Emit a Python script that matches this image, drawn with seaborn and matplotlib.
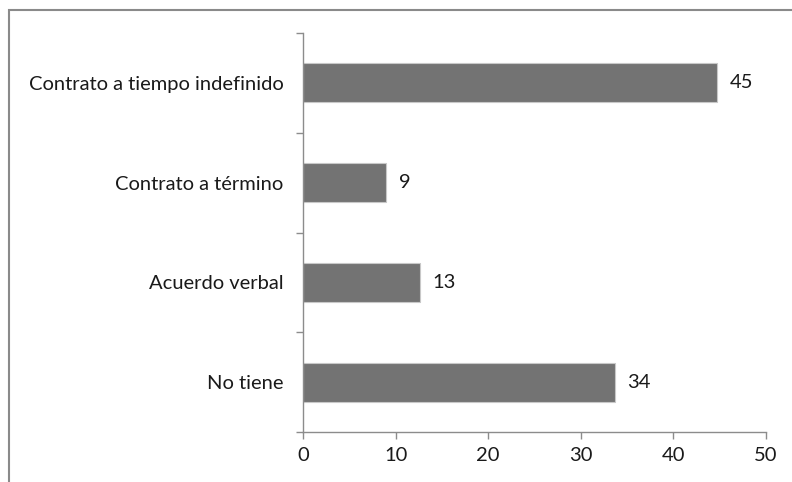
import numpy as np
import pandas as pd
import matplotlib.pyplot as plt
import seaborn as sns
from matplotlib.patches import Rectangle
from matplotlib.ticker import FixedLocator

categorias = ["Contrato a tiempo indefinido", "Contrato a término", "Acuerdo verbal", "No tiene"]
valores = [44.7, 9.0, 12.6, 33.7]
etiquetas = ["45", "9", "13", "34"]

df = pd.DataFrame({"tipo": categorias, "valor": valores})

sns.set_style("white")
plt.rcParams['font.family'] = ['Lato', 'DejaVu Sans']

fig = plt.figure(figsize=(7.92, 4.82), dpi=100)
ax = fig.add_axes([303 / 792, 1 - 432 / 482, (766 - 303) / 792, (432 - 33) / 482])

sns.barplot(data=df, y="tipo", x="valor", orient="h", color="#737373",
            saturation=1, width=0.39, edgecolor="#c8c8c8", linewidth=0.8, ax=ax)

ax.bar_label(ax.containers[0], labels=etiquetas, padding=9, fontsize=14.5, color="#1a1a1a")

ax.set_xlim(0, 50)
ax.set_ylim(3.5, -0.5)
ax.set_xticks(np.arange(0, 51, 10))
ax.set_xlabel("")
ax.set_ylabel("")
ax.yaxis.set_minor_locator(FixedLocator(np.arange(-0.5, 3.6, 1)))
ax.tick_params(axis="y", which="major", length=0, pad=14, labelsize=14.5, labelcolor="#1a1a1a")
ax.tick_params(axis="y", which="minor", length=5, width=1, color="#8c8c8c", direction="out", left=True)
ax.tick_params(axis="x", which="major", length=5, width=1, color="#8c8c8c", direction="out",
               bottom=True, labelsize=14.5, labelcolor="#1a1a1a", pad=6)

for side in ["top", "right"]:
    ax.spines[side].set_visible(False)
for side in ["left", "bottom"]:
    ax.spines[side].set_color("#8c8c8c")
    ax.spines[side].set_linewidth(1)

# marco del gráfico (recortado a la derecha y abajo)
fig.patches.append(Rectangle((9 / 792, -0.5), 2.0, 1.5 - 10 / 482, transform=fig.transFigure,
                             fill=False, edgecolor="#8a8a8a", linewidth=1.5, zorder=0))

fig.savefig("out.png", dpi=100)
